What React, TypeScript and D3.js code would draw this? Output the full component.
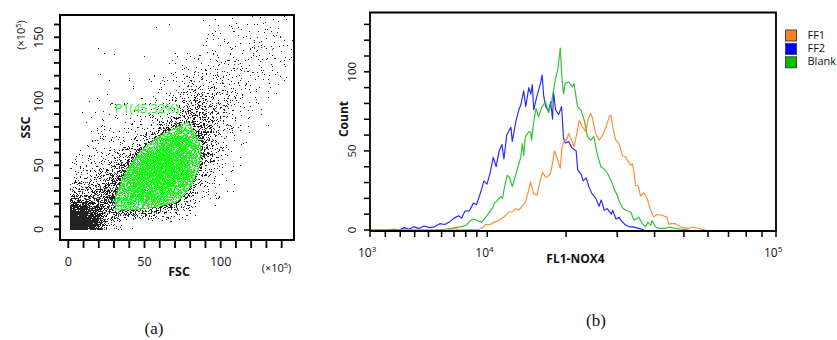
import React from 'react';
import * as d3 from 'd3';

const W = 837;
const H = 340;

// ---------- Panel (a): FSC / SSC scatter (events per 10x10 cell, x1e5 units, value at cell centre) ----------
const FSC_CENTERS = [5, 15, 25, 35, 45, 55, 65, 75, 85, 95, 105, 115, 125, 135, 145];
const SSC_CENTERS = [5, 15, 25, 35, 45, 55, 65, 75, 85, 95, 105, 115, 125, 135, 145, 155, 165];
// rows: SSC bins (ascending), columns: FSC bins (ascending)
const EVENT_COUNTS: number[][] = [
  [650, 330, 30, 6, 2, 1, 0, 0, 0, 0, 0, 0, 0, 0, 0],
  [210, 150, 60, 60, 70, 60, 45, 12, 2, 0, 0, 0, 0, 0, 0],
  [40, 60, 75, 140, 190, 170, 130, 55, 6, 2, 0, 0, 0, 0, 0],
  [20, 30, 50, 120, 250, 270, 240, 160, 12, 4, 2, 0, 0, 0, 0],
  [8, 15, 25, 60, 250, 310, 310, 250, 45, 8, 3, 0, 0, 0, 0],
  [3, 8, 12, 20, 90, 290, 320, 280, 80, 12, 4, 0, 0, 0, 0],
  [1, 3, 6, 10, 20, 95, 250, 260, 90, 22, 6, 2, 0, 0, 0],
  [1, 2, 4, 6, 10, 20, 75, 130, 70, 30, 8, 3, 0, 0, 0],
  [0, 1, 3, 4, 5, 8, 15, 35, 45, 30, 10, 3, 1, 0, 0],
  [1, 0, 2, 2, 3, 4, 8, 20, 35, 25, 12, 5, 2, 1, 0],
  [0, 1, 1, 0, 1, 2, 4, 12, 25, 22, 14, 6, 3, 1, 0],
  [0, 0, 1, 0, 1, 1, 3, 6, 12, 14, 12, 8, 4, 2, 0],
  [0, 1, 0, 1, 0, 0, 2, 4, 6, 10, 9, 8, 6, 3, 1],
  [0, 0, 1, 0, 0, 1, 0, 2, 3, 5, 6, 6, 5, 4, 2],
  [0, 0, 0, 0, 0, 0, 0, 1, 2, 3, 4, 5, 5, 4, 2],
  [0, 0, 0, 0, 0, 0, 1, 0, 1, 2, 3, 4, 5, 4, 2],
  [0, 0, 0, 0, 0, 0, 0, 0, 0, 1, 2, 2, 3, 3, 2],
];
// P1 gate polygon [FSC, SSC]
const GATE: [number, number][] = [
  [31, 15], [31, 26], [36, 40], [40, 49], [48, 62], [59, 72], [70, 79], [78.5, 84],
  [83, 75], [87, 64], [86, 49], [80, 33], [72, 22], [60, 18], [45, 15.5],
];
const GATE_LABEL = 'P1(45,32%)';
const SCATTER_X_TICKS = [0, 10, 20, 30, 40, 50, 60, 70, 80, 90, 100, 110, 120, 130, 140];
const SCATTER_X_LABELS = [0, 50, 100];
const SCATTER_Y_TICKS = [0, 10, 20, 30, 40, 50, 60, 70, 80, 90, 100, 110, 120, 130, 140, 150, 160];
const SCATTER_Y_LABELS = [0, 50, 100, 150];

// ---------- Panel (b): FL1-NOX4 histograms [FL1 value, count] ----------
const FF1: [number, number][] = [
  [1000, 0], [6780, 0], [7000, 1], [7390, 0], [9170, 0.5], [9340, 1], [9670, 2], [9840, 3.5], [10350, 3.6],
  [10520, 4.5], [11210, 6], [11720, 8.2], [11900, 9.3], [12270, 11.4], [12650, 11.5], [13040, 13.5],
  [13420, 12.5], [13800, 15], [14220, 17.7], [14640, 25.5], [14860, 30.4], [15280, 23], [15700, 22],
  [16160, 31.5], [16480, 36.5], [16870, 33.5], [17090, 33.5], [17580, 35.5], [17800, 40], [18200, 50],
  [18550, 46], [19080, 39], [19320, 52], [19740, 57], [20110, 56.8], [20420, 61], [20910, 56.8],
  [21330, 52.5], [21930, 63], [22240, 69.4], [22550, 67.3], [22840, 65], [23460, 62], [23750, 68.4],
  [24060, 71.5], [24370, 73.7], [24660, 71.5], [25320, 61], [26040, 56.8], [26750, 60], [27480, 65],
  [28200, 71.5], [28560, 72.6], [28910, 66], [29640, 57], [30420, 54.7], [31240, 47], [32080, 46],
  [32480, 44], [33320, 41], [33720, 42], [34140, 36.7], [34560, 28.3], [35230, 28], [35920, 21.5],
  [36860, 23.5], [37800, 19.8], [38780, 12.5], [39720, 8.3], [40750, 9.8], [42370, 9.3], [44000, 8],
  [44550, 3.5], [45220, 4], [46910, 4], [49280, 1.5], [51880, 1], [53200, 1.9], [57390, 0.5], [59000, 0],
];
const FF2: [number, number][] = [
  [1000, 0], [2150, 0], [2600, 0.5], [2950, 0], [3270, 1.5], [3600, 0.5], [3930, 2], [4300, 1], [4680, 2.5],
  [5060, 1.5], [5460, 2], [5860, 4], [6250, 3.5], [6620, 5], [7000, 7.5], [7390, 9], [7630, 7.5],
  [7940, 12], [8310, 12], [8690, 17], [8970, 16], [9370, 24], [9670, 31], [9970, 29], [10280, 36],
  [10590, 46], [10900, 40], [11210, 50], [11510, 54], [11720, 45], [12030, 60], [12500, 65], [12650, 56],
  [13080, 69], [13420, 76], [13650, 79], [14000, 88], [14260, 78], [14640, 90], [14900, 86], [15090, 92],
  [15280, 76], [15660, 84], [16200, 93], [16410, 98], [16620, 85], [16910, 78], [17330, 75], [17620, 81],
  [17900, 70], [18050, 87], [18350, 76], [18820, 73], [19280, 78], [19590, 58], [19890, 55], [20420, 56],
  [20960, 52], [21690, 50], [21970, 38], [22600, 35], [22970, 31], [23510, 33], [24060, 27], [24600, 23],
  [25390, 20], [26040, 15], [26470, 19], [27120, 12.5], [27760, 13.5], [28630, 10], [28950, 12.5],
  [29710, 7], [30420, 8], [30920, 6], [31660, 4], [32160, 3], [32900, 2], [33890, 2], [35430, 1], [36860, 0],
];
const BLANK: [number, number][] = [
  [1000, 0], [5460, 0], [6250, 0.5], [6780, 1], [7550, 2], [8030, 3], [8400, 6], [8690, 7], [9020, 6],
  [9470, 5], [9840, 8], [10020, 9.5], [10180, 11], [10540, 14], [10690, 16.5], [11030, 18.8], [11380, 21],
  [11570, 20], [11720, 25], [12070, 34.6], [12320, 33.5], [12650, 27.5], [13040, 34.6], [13420, 42],
  [13650, 46], [13830, 54.7], [14000, 47], [14220, 59], [14640, 62], [14860, 62], [14990, 56.8],
  [15280, 68.4], [15570, 76.8], [15920, 71.5], [16380, 77.8], [16870, 81], [17330, 74], [17800, 82],
  [18310, 95], [18710, 102], [19080, 115], [19320, 97], [19590, 86], [19850, 92.6], [20420, 93.7],
  [21020, 90.5], [21330, 92.6], [21930, 78], [22550, 75.8], [23150, 69.4], [23750, 59], [24370, 56.8],
  [24970, 59], [25670, 48], [26400, 40], [27120, 38.5], [27830, 35.7], [28560, 31.5], [29280, 26],
  [30000, 22], [30420, 18.5], [31240, 14], [32080, 12.5], [33320, 11.4], [34140, 6.1], [34960, 7.2],
  [35430, 8.2], [36370, 4], [37350, 2], [38000, 5], [38780, 3], [39230, 6], [40230, 2], [41300, 1],
  [43480, 1], [44550, 1.9], [46910, 1], [49180, 0.5], [51880, 0],
];
const SERIES_NAMES = ['FF1', 'FF2', 'Blank'];
const HIST_X_MAJOR = [1000, 10000, 100000];
const HIST_X_MAJOR_EXP = ['3', '4', '5'];
const HIST_X_MINOR = [2000, 3000, 4000, 5000, 6000, 7000, 8000, 9000, 20000, 30000, 40000, 50000, 60000, 70000, 80000, 90000];
const HIST_Y_TICKS = [0, 10, 20, 30, 40, 50, 60, 70, 80, 90, 100, 110, 120, 130];
const HIST_Y_LABELS = [0, 50, 100];

const FONT = "'Open Sans', 'Liberation Sans', sans-serif";
const LINE_COLORS = ['#ff8c2e', '#2727ff', '#2fc02f'];
const LEGEND_COLORS = ['#ff8020', '#0000ff', '#00c000'];

const clamp = (v: number, a: number, b: number) => Math.max(a, Math.min(b, v));

// bilinear interpolation of the event grid between cell centres
function densityAt(f: number, s: number) {
  const nC = FSC_CENTERS.length;
  const nR = SSC_CENTERS.length;
  const cx = clamp(f / 10 - 0.5, 0, nC - 1);
  const cy = clamp(s / 10 - 0.5, 0, nR - 1);
  const i0 = Math.min(Math.floor(cx), nC - 2);
  const j0 = Math.min(Math.floor(cy), nR - 2);
  const tx = cx - i0;
  const ty = cy - j0;
  const g = EVENT_COUNTS;
  return (
    g[j0][i0] * (1 - tx) * (1 - ty) +
    g[j0][i0 + 1] * tx * (1 - ty) +
    g[j0 + 1][i0] * (1 - tx) * ty +
    g[j0 + 1][i0 + 1] * tx * ty
  );
}

// deterministic per-pixel dither threshold (integer hash of pixel coordinates)
function ditherThreshold(i: number, j: number) {
  let h = (Math.imul(i, 374761393) + Math.imul(j, 668265263)) | 0;
  h = Math.imul(h ^ (h >>> 13), 1274126177);
  h ^= h >>> 16;
  return (h >>> 0) / 4294967296;
}

export default function App() {
  // ---- scatter scales / frame
  const aL = 60, aR = 294, aT = 15, aB = 240;
  const xS = d3.scaleLinear().domain([0, 100]).range([68.3, 220.7]);
  const yS = d3.scaleLinear().domain([0, 150]).range([229.3, 37.3]);
  const gatePx = GATE.map(([f, s]) => [xS(f), yS(s)] as [number, number]);

  // render the event density grid as 1px event dots
  const cellArea = (xS(10) - xS(0)) * (yS(0) - yS(10));
  const dotArea = 1.8;
  const black: string[] = [];
  const green: string[] = [];
  for (let py = aT + 1; py < aB - 1; py++) {
    for (let px = aL + 1; px < aR - 1; px++) {
      const f = xS.invert(px + 0.5);
      const s = yS.invert(py + 0.5);
      if (f < 0.8 || s < -0.8) continue;
      const lam = densityAt(f, s) / cellArea;
      const cover = 1 - Math.exp(-lam * dotArea);
      if (ditherThreshold(px, py) >= cover) continue;
      const seg = `M${px},${py}h1v1h-1z`;
      if (d3.polygonContains(gatePx, [px + 0.5, py + 0.5])) green.push(seg);
      else black.push(seg);
    }
  }
  const gateLine = d3.line()(gatePx.concat([gatePx[0]])) || '';

  // ---- histogram scales
  const bL = 370, bR = 776, bT = 12.5, bB = 231;
  const C = 8600;
  const tx = (v: number) => Math.asinh(v / C);
  const xLin = d3.scaleLinear().domain([tx(1000), tx(100000)]).range([bL, bR]);
  const xH = (v: number) => xLin(tx(v));
  const yH = d3.scaleLinear().domain([0, 137.5]).range([230, bT]);
  const line = d3.line<[number, number]>().x((d) => xH(d[0])).y((d) => yH(d[1]));
  const series = [FF2, BLANK, FF1];
  const seriesColors = [LINE_COLORS[1], LINE_COLORS[2], LINE_COLORS[0]];

  return (
    <svg width={W} height={H} style={{ position: 'absolute', left: 0, top: 0, background: '#fff' }}>
      {/* ===== Panel (a) ===== */}
      <path d={black.join('')} fill="#222" shapeRendering="crispEdges" />
      <path d={green.join('')} fill="#1ef51e" shapeRendering="crispEdges" />
      <path d={gateLine} fill="none" stroke="#1ee81e" strokeWidth={1} />
      <text x={xS(30.5)} y={yS(90.8)} fontFamily={FONT} fontSize={12.5} fill="#2ce82c">{GATE_LABEL}</text>
      <rect x={aL} y={aT} width={aR - aL} height={aB - aT} fill="none" stroke="#000" strokeWidth={2} />
      {SCATTER_Y_TICKS.map((t) => (
        <line key={'ay' + t} x1={aL - 6} x2={aL} y1={yS(t)} y2={yS(t)} stroke="#000" strokeWidth={1.8} />
      ))}
      {SCATTER_X_TICKS.map((t) => (
        <line key={'ax' + t} x1={xS(t)} x2={xS(t)} y1={aB} y2={aB + 8} stroke="#000" strokeWidth={1.8} />
      ))}
      {SCATTER_Y_LABELS.map((t) => (
        <text key={'ayl' + t} transform={`translate(${42.5},${yS(t)}) rotate(-90)`} textAnchor="middle"
          fontFamily={FONT} fontSize={12.5} fill="#111">{t}</text>
      ))}
      {SCATTER_X_LABELS.map((t) => (
        <text key={'axl' + t} x={xS(t)} y={266} textAnchor="middle" fontFamily={FONT} fontSize={12.5} fill="#111">{t}</text>
      ))}
      <text transform="translate(30,127.5) rotate(-90)" textAnchor="middle" fontFamily={FONT} fontSize={12.5} fontWeight="bold" fill="#111">SSC</text>
      <text transform="translate(24.5,35) rotate(-90)" textAnchor="middle" fontFamily={FONT} fontSize={11} fill="#111">
        (×10<tspan fontSize={7.5} dy={-4}>5</tspan><tspan dy={4}>)</tspan>
      </text>
      <text x={179} y={276} textAnchor="middle" fontFamily={FONT} fontSize={12.5} fontWeight="bold" fill="#111">FSC</text>
      <text x={276.5} y={272} textAnchor="middle" fontFamily={FONT} fontSize={11} fill="#111">
        (×10<tspan fontSize={7.5} dy={-4}>5</tspan><tspan dy={4}>)</tspan>
      </text>

      {/* ===== Panel (b) ===== */}
      {series.map((s, i) => (
        <path key={'ln' + i} d={line(s) || ''} fill="none" stroke={seriesColors[i]} strokeWidth={1.15} strokeLinejoin="round" />
      ))}
      <path d={`M${bL},${bB}V${bT}H${bR}V${bB}Z`} fill="none" stroke="#000" strokeWidth={1.8} />
      {HIST_Y_TICKS.map((t) => (
        <line key={'by' + t} x1={bL - 6} x2={bL} y1={yH(t)} y2={yH(t)} stroke="#000" strokeWidth={1.5} />
      ))}
      {HIST_X_MAJOR.concat(HIST_X_MINOR).map((t) => (
        <line key={'bx' + t} x1={xH(t)} x2={xH(t)} y1={bB} y2={bB + 6} stroke="#000" strokeWidth={1.5} />
      ))}
      {HIST_Y_LABELS.map((t) => (
        <text key={'byl' + t} transform={`translate(${356},${yH(t)}) rotate(-90)`} textAnchor="middle"
          fontFamily={FONT} fontSize={11.5} fill="#111">{t}</text>
      ))}
      {HIST_X_MAJOR.map((t, i) => (
        <text key={'bxl' + t} x={xH(t) - 12} y={257} fontFamily={FONT} fontSize={12} fill="#111">
          10<tspan fontSize={8} dy={-5}>{HIST_X_MAJOR_EXP[i]}</tspan>
        </text>
      ))}
      <text transform="translate(348,119) rotate(-90)" textAnchor="middle" fontFamily={FONT} fontSize={12} fontWeight="bold" fill="#111">Count</text>
      <text x={575.5} y={263} textAnchor="middle" fontFamily={FONT} fontSize={12} fontWeight="bold" fill="#111">FL1-NOX4</text>

      {/* legend */}
      {SERIES_NAMES.map((n, i) => (
        <g key={'lg' + n}>
          <rect x={785.5} y={30 + i * 13.4} width={11} height={11} fill={LEGEND_COLORS[i]} stroke="#444" strokeWidth={1} />
          <text x={807.5} y={38.5 + i * 13.4} fontFamily={FONT} fontSize={11} fill="#111">{n}</text>
        </g>
      ))}

      {/* captions */}
      <text x={154} y={334} textAnchor="middle" fontFamily="'Liberation Serif', 'DejaVu Serif', serif" fontSize={17} fill="#111">(a)</text>
      <text x={596} y={326} textAnchor="middle" fontFamily="'Liberation Serif', 'DejaVu Serif', serif" fontSize={17} fill="#111">(b)</text>
    </svg>
  );
}
